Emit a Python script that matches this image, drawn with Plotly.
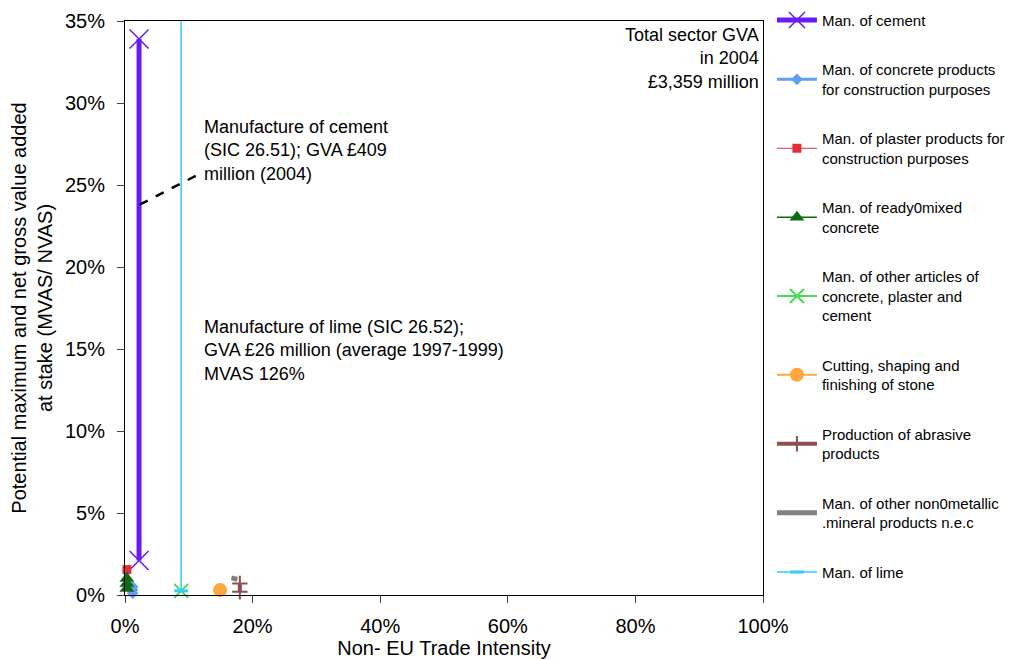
import plotly.graph_objects as go

FONT = "Liberation Sans, Arial, sans-serif"

# series: non-EU trade intensity (x) and MVAS/NVAS (y)
cement_x = [0.022, 0.022]
cement_y = [0.021, 0.339]
concrete_x = [0.012, 0.012, 0.012]
concrete_y = [0.001, 0.003, 0.005]
plaster_x = [0.003]
plaster_y = [0.0155]
ready_x = [0.003, 0.003, 0.003]
ready_y = [0.004, 0.007, 0.010]
other_x = [0.088]
other_y = [0.0025]
cutting_x = [0.149]
cutting_y = [0.003]
abrasive_x = [0.18, 0.18]
abrasive_y = [0.002, 0.007]
nonmet_x = [0.167, 0.176]
nonmet_y = [0.0105, 0.0095]
lime_x = [0.088, 0.088]
lime_y = [0.0025, 1.26]

traces = [
    ("Man. of cement", cement_x, cement_y, "#6A1BF2", 5, "x-thin-open", 19, 1.5),
    ("Man. of concrete products<br>for construction purposes", concrete_x, concrete_y, "#5FA0F0", 3, "diamond", 9, 0),
    ("Man. of plaster products for<br>construction purposes", plaster_x, plaster_y, "#E0303A", 1, "square", 9, 0),
    ("Man. of ready0mixed<br>concrete", ready_x, ready_y, "#0E6B12", 1.5, "triangle-up", 13, 0),
    ("Man. of other articles of<br>concrete, plaster and<br>cement", other_x, other_y, "#44DD55", 2, "x-thin-open", 14, 2),
    ("Cutting, shaping and<br>finishing of stone", cutting_x, cutting_y, "#FFA640", 2, "circle", 14, 0),
    ("Production of abrasive<br>products", abrasive_x, abrasive_y, "#8B4F4F", 4, "cross-thin-open", 11, 2),
    ("Man. of other non0metallic<br>.mineral products n.e.c", nonmet_x, nonmet_y, "#808080", 5, "circle", 1, 0),
    ("Man. of lime", lime_x, lime_y, "#33CCFF", 1.5, "line-ew-open", 10, 3),
]

fig = go.Figure()
for i, (name, xs, ys, col, lw, sym, size, mlw) in enumerate(traces):
    fig.add_trace(go.Scatter(
        x=xs, y=ys, name=name, mode="lines+markers",
        line=dict(color=col, width=lw),
        marker=dict(symbol=sym, size=size, color=col, line=dict(color=col, width=mlw)),
        legendgroup=str(i), cliponaxis=False,
    ))

# dashed pointer from the cement line to its label
fig.add_shape(type="line", x0=0.023, y0=0.238, x1=0.113, y1=0.256,
              line=dict(color="black", width=2.5, dash="dash"))

fig.add_annotation(x=0.121, y=0.271, xanchor="left", yanchor="middle", align="left",
                   showarrow=False,
                   text="Manufacture of cement<br>(SIC 26.51); GVA £409<br>million (2004)")
fig.add_annotation(x=0.121, y=0.149, xanchor="left", yanchor="middle", align="left",
                   showarrow=False,
                   text="Manufacture of lime (SIC 26.52);<br>GVA £26 million (average 1997-1999)<br>MVAS 126%")
fig.add_annotation(x=0.997, y=0.349, xanchor="right", yanchor="top", align="right",
                   showarrow=False,
                   text="Total sector GVA<br>in 2004<br>£3,359 million")

# page body adds an 8px offset, so margins are shifted to compensate
fig.update_layout(
    width=1014, height=659,
    margin=dict(l=117, r=259, t=13, b=72, autoexpand=False),
    paper_bgcolor="white", plot_bgcolor="white",
    font=dict(family=FONT, size=18, color="black"),
    legend=dict(x=1.014, y=1.03, xanchor="left", yanchor="top",
                font=dict(size=15), tracegroupgap=27, itemwidth=40,
                traceorder="grouped", maxheight=700),
    xaxis=dict(range=[0, 1], dtick=0.2, tickformat=".0%", showgrid=False, zeroline=False,
               showline=True, linecolor="black", mirror=True, ticks="outside", ticklen=7,
               tickfont=dict(size=20), ticklabelstandoff=6,
               title=dict(text="Non- EU Trade Intensity", font=dict(size=20), standoff=0)),
    yaxis=dict(range=[0, 0.35], dtick=0.05, tickformat=".0%", showgrid=False, zeroline=False,
               showline=True, linecolor="black", mirror=True, ticks="outside", ticklen=7,
               tickfont=dict(size=20), ticklabelstandoff=8,
               title=dict(text="Potential maximum and net gross value added<br>at stake (MVAS/ NVAS)",
                          font=dict(size=20), standoff=12)),
)

fig.write_html("out.html")
